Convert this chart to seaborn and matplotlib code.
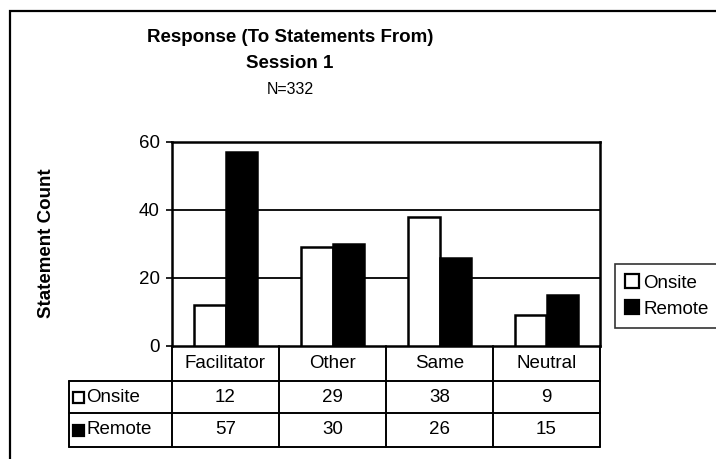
import matplotlib
matplotlib.use("Agg")
import matplotlib.pyplot as plt
from matplotlib.patches import Rectangle, Patch
from matplotlib.lines import Line2D
import seaborn as sns
import pandas as pd

categories = ["Facilitator", "Other", "Same", "Neutral"]
series_names = ["Onsite", "Remote"]
onsite = [12, 29, 38, 9]
remote = [57, 30, 26, 15]
yticks = [0, 20, 40, 60]

colors = {"Onsite": "white", "Remote": "black"}

df = pd.DataFrame({
    "category": categories * 2,
    "series": ["Onsite"] * len(categories) + ["Remote"] * len(categories),
    "count": onsite + remote,
})

sns.set_theme(style="white")
plt.rcParams["font.family"] = ["Liberation Sans", "DejaVu Sans"]
plt.rcParams["text.color"] = "black"
plt.rcParams["ytick.color"] = "black"
plt.rcParams["ytick.labelcolor"] = "black"

FS = 13.5

W, H = 716, 459
fig = plt.figure(figsize=(W / 100, H / 100), dpi=100)
fig.patch.set_facecolor("white")

# plot area in pixel terms
left, right, top, bottom = 172, 600, 142, 346
ax = fig.add_axes([left / W, (H - bottom) / H, (right - left) / W, (bottom - top) / H])

sns.barplot(data=df, x="category", y="count", hue="series", order=categories,
            hue_order=series_names, palette=colors, width=0.59, gap=0,
            edgecolor="black", linewidth=1.8, saturation=1, ax=ax, legend=False,
            zorder=3)

ax.set_xlim(-0.5, len(categories) - 0.5)
ax.set_ylim(0, 60)
ax.set_yticks(yticks)
ax.set_yticklabels([str(t) for t in yticks], fontsize=FS)
ax.set_xticks([])
ax.set_xlabel("")
ax.set_ylabel("")
ax.tick_params(axis="y", direction="out", length=4, width=1.2, color="black",
               left=True, pad=5, labelcolor="black")
for s in ax.spines.values():
    s.set_visible(True)
    s.set_color("black")
    s.set_linewidth(1.8)
for t in yticks[1:-1]:
    ax.axhline(t, color="black", lw=1.3, zorder=1)

# y label
fig.text(47 / W, 1 - 243 / H, "Statement Count", rotation=90, ha="center",
         va="center", fontsize=FS, fontweight="bold")

# titles
tx = 290 / W
fig.text(tx, 1 - 38 / H, "Response (To Statements From)", ha="center",
         va="center", fontsize=13.5, fontweight="bold")
fig.text(tx, 1 - 64 / H, "Session 1", ha="center", va="center",
         fontsize=13.5, fontweight="bold")
fig.text(tx, 1 - 90 / H, "N=332", ha="center", va="center", fontsize=11.5)

# data table beneath the axis
ph = bottom - top
pw = right - left
row_edges_px = [346, 381, 413, 447]
row_y = [-(r - bottom) / ph for r in row_edges_px]
label_left = (69 - left) / pw
tr = ax.get_xaxis_transform()  # x in data, y in axes fraction
trA = ax.transAxes
lw_t = 1.4
n = len(categories)
col_edges = [i - 0.5 for i in range(n + 1)]
for xe in col_edges:
    ax.add_line(Line2D([xe, xe], [row_y[0], row_y[-1]], transform=tr, color="black",
                       lw=lw_t, clip_on=False))
for yy in row_y[1:]:
    ax.add_line(Line2D([label_left, 1], [yy, yy], transform=trA, color="black",
                       lw=lw_t, clip_on=False))
ax.add_line(Line2D([label_left, label_left], [row_y[1], row_y[-1]], transform=trA,
                   color="black", lw=lw_t, clip_on=False))

# header cells
hy = (row_y[0] + row_y[1]) / 2
for i, c in enumerate(categories):
    ax.text(i, hy, c, transform=tr, ha="center", va="center", fontsize=FS)

# value rows with legend keys
for r, (name, vals) in enumerate(zip(series_names, [onsite, remote])):
    cy = (row_y[r + 1] + row_y[r + 2]) / 2
    for i, v in enumerate(vals):
        ax.text(i, cy, str(v), transform=tr, ha="center", va="center", fontsize=FS)
    kx = label_left + 4 / pw
    ax.add_patch(Rectangle((kx, cy - 5.5 / ph), 11 / pw, 11 / ph,
                           transform=trA, facecolor=colors[name], edgecolor="black",
                           lw=1.6, clip_on=False))
    ax.text(kx + 13 / pw, cy, name, transform=trA, ha="left",
            va="center", fontsize=FS)

# legend on the right
handles = [Patch(facecolor=colors[s], edgecolor="black", lw=1.6, label=s)
           for s in series_names]
leg = fig.legend(handles=handles, loc="upper left",
                 bbox_to_anchor=(615 / W, 1 - 264 / H), frameon=True,
                 fontsize=FS, handlelength=0.75, handleheight=0.75,
                 handletextpad=0.2, borderpad=0.55, labelspacing=0.45,
                 fancybox=False, borderaxespad=0)
leg.get_frame().set_edgecolor("black")
leg.get_frame().set_linewidth(1.2)

# outer chart border, running past the right and bottom edges
fig.patches.append(Rectangle((10 / W, -0.05), 1.1, 1 - 11 / H + 0.05,
                             transform=fig.transFigure, fill=False,
                             edgecolor="black", lw=1.6, zorder=0))

fig.savefig("out.png", dpi=100, facecolor="white")
